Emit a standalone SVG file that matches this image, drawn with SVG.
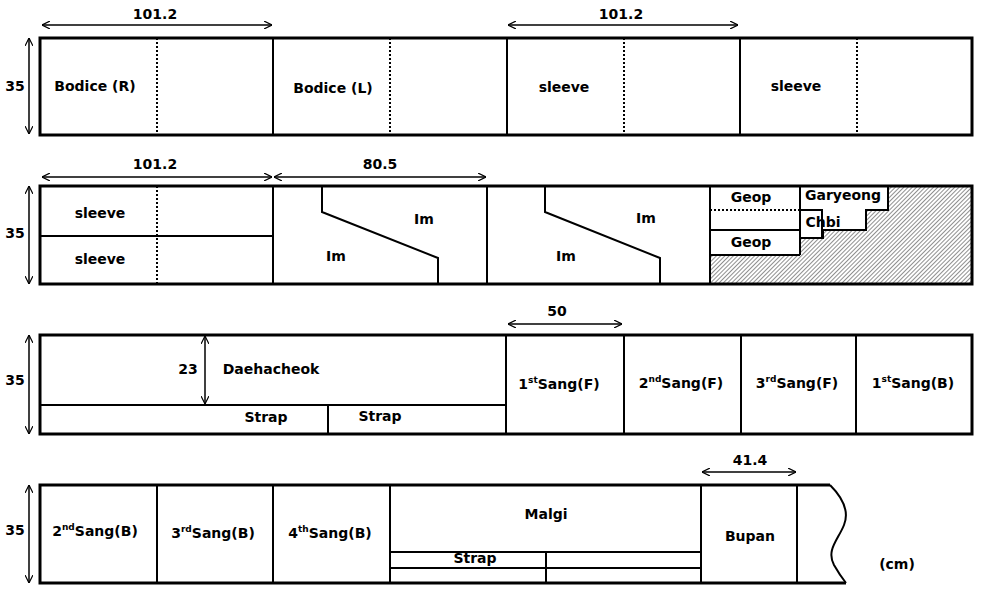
<svg xmlns="http://www.w3.org/2000/svg" width="986" height="596" viewBox="0 0 986 596">
<style>
.b{fill:none;stroke:#000;stroke-width:3}
.l{stroke:#000;stroke-width:2;fill:none}
.d{stroke:#000;stroke-width:2;stroke-dasharray:2 2;fill:none}
.a{stroke:#000;stroke-width:1.5;fill:none;marker-start:url(#ah);marker-end:url(#ah)}
text{font-family:"DejaVu Sans",sans-serif;font-size:14px;font-weight:bold;fill:#000;text-anchor:middle}
</style>
<defs>
<marker id="ah" viewBox="0 0 10 10" refX="10" refY="5" markerWidth="8" markerHeight="8" orient="auto-start-reverse" markerUnits="userSpaceOnUse"><path d="M0,0 L10,5 L0,10" fill="none" stroke="#000" stroke-width="1.5"/></marker>
<pattern id="h" width="3" height="3" patternUnits="userSpaceOnUse" patternTransform="rotate(45)"><rect width="3" height="3" fill="#fff"/><line x1="0" y1="0" x2="0" y2="3" stroke="#444" stroke-width="1.2"/></pattern>
</defs>
<rect width="986" height="596" fill="#fff"/>
<g id="connectors">
<line class="a" x1="42" y1="25" x2="272" y2="25"/><line class="a" x1="508" y1="25" x2="738" y2="25"/>
<line class="a" x1="29" y1="38" x2="29" y2="134"/>
<line class="a" x1="42" y1="177" x2="272" y2="177"/><line class="a" x1="274" y1="177" x2="486" y2="177"/>
<line class="a" x1="29" y1="186" x2="29" y2="284"/>
<line class="a" x1="508" y1="324" x2="622" y2="324"/>
<line class="a" x1="29" y1="335" x2="29" y2="434"/>
<line class="a" x1="205" y1="336" x2="205" y2="404"/>
<line class="a" x1="702" y1="472" x2="796" y2="472"/>
<line class="a" x1="29" y1="485" x2="29" y2="583"/>
</g>
<g id="labels-dim">
<text x="155" y="19">101.2</text><text x="621" y="19">101.2</text>
<text x="155" y="169">101.2</text><text x="380" y="169">80.5</text>
<text x="557" y="316">50</text><text x="750" y="465">41.4</text>
<text x="15" y="91">35</text><text x="15" y="238">35</text><text x="15" y="385">35</text><text x="15" y="535">35</text>
<text x="188" y="374">23</text>
</g>
<g id="row1">
<rect class="b" x="40" y="38" width="932" height="97"/>
<line class="l" x1="273" y1="38" x2="273" y2="135"/><line class="l" x1="507" y1="38" x2="507" y2="135"/><line class="l" x1="740" y1="38" x2="740" y2="135"/>
<line class="d" x1="157" y1="38" x2="157" y2="135"/><line class="d" x1="390" y1="38" x2="390" y2="135"/><line class="d" x1="624" y1="38" x2="624" y2="135"/><line class="d" x1="857" y1="38" x2="857" y2="135"/>
<text x="95" y="91">Bodice (R)</text><text x="333" y="93">Bodice (L)</text><text x="564" y="92">sleeve</text><text x="796" y="91">sleeve</text>
</g>
<g id="row2">
<rect x="710" y="186" width="262" height="98" fill="url(#h)"/>
<path d="M710,186 H888 V210 H866 V230 H823 V238 H800 V255 H710 Z" fill="#fff"/>
<path class="l" d="M800,186 V255 M710,255 H800 M710,230 H800 M888,186 V210 H866 V230 H823 V238 H800 M800,210 H822 V238"/>
<line class="d" x1="710" y1="210" x2="800" y2="210"/>
<rect class="b" x="40" y="186" width="932" height="98"/>
<line class="l" x1="273" y1="186" x2="273" y2="284"/><line class="l" x1="487" y1="186" x2="487" y2="284"/><line class="l" x1="710" y1="186" x2="710" y2="284"/>
<line class="l" x1="40" y1="236" x2="273" y2="236"/>
<line class="d" x1="157" y1="186" x2="157" y2="284"/>
<path class="l" d="M322,186 V212 L438,258 V284 M545,186 V212 L660,258 V284"/>
<text x="100" y="218">sleeve</text><text x="100" y="264">sleeve</text>
<text x="424" y="224">Im</text><text x="336" y="261">Im</text><text x="646" y="223">Im</text><text x="566" y="261">Im</text>
<text x="751" y="202">Geop</text><text x="751" y="247">Geop</text><text x="843" y="200">Garyeong</text><text x="823" y="227">Chbi</text>
</g>
<g id="row3">
<rect class="b" x="40" y="335" width="932" height="99"/>
<line class="l" x1="506" y1="335" x2="506" y2="434"/><line class="l" x1="624" y1="335" x2="624" y2="434"/><line class="l" x1="741" y1="335" x2="741" y2="434"/><line class="l" x1="856" y1="335" x2="856" y2="434"/>
<line class="l" x1="40" y1="405" x2="506" y2="405"/><line class="l" x1="328" y1="405" x2="328" y2="434"/>
<text x="271" y="374">Daehacheok</text><text x="266" y="422">Strap</text><text x="380" y="421">Strap</text>
<text x="559" y="389">1<tspan font-size="9" dy="-6">st</tspan><tspan dy="6">Sang(F)</tspan></text>
<text x="681" y="388">2<tspan font-size="9" dy="-6">nd</tspan><tspan dy="6">Sang(F)</tspan></text>
<text x="797" y="388">3<tspan font-size="9" dy="-6">rd</tspan><tspan dy="6">Sang(F)</tspan></text>
<text x="913" y="388">1<tspan font-size="9" dy="-6">st</tspan><tspan dy="6">Sang(B)</tspan></text>
</g>
<g id="row4">
<path class="b" d="M830,485 H40 V583 H846"/>
<path class="l" d="M830,485 C842,497 850,510 844,525 C838,540 826,550 834,565 C838,572 842,578 846,583"/>
<line class="l" x1="157" y1="485" x2="157" y2="583"/><line class="l" x1="273" y1="485" x2="273" y2="583"/><line class="l" x1="390" y1="485" x2="390" y2="583"/><line class="l" x1="701" y1="485" x2="701" y2="583"/><line class="l" x1="797" y1="485" x2="797" y2="583"/>
<line class="l" x1="390" y1="552" x2="701" y2="552"/><line class="l" x1="390" y1="568" x2="701" y2="568"/><line class="l" x1="546" y1="552" x2="546" y2="583"/>
<text x="95" y="536">2<tspan font-size="9" dy="-6">nd</tspan><tspan dy="6">Sang(B)</tspan></text>
<text x="213" y="538">3<tspan font-size="9" dy="-6">rd</tspan><tspan dy="6">Sang(B)</tspan></text>
<text x="330" y="538">4<tspan font-size="9" dy="-6">th</tspan><tspan dy="6">Sang(B)</tspan></text>
<text x="546" y="519">Malgi</text><text x="475" y="563">Strap</text>
<text x="750" y="541">Bupan</text><text x="897" y="569">(cm)</text>
</g>
</svg>
